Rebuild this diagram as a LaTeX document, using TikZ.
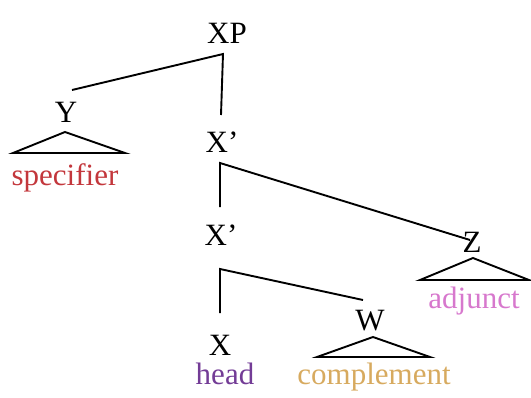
\documentclass[tikz,border=0pt]{standalone}
\usepackage{fontspec}
\setmainfont{Liberation Serif}
\definecolor{specred}{RGB}{195,55,60}
\definecolor{adjpink}{RGB}{215,120,205}
\definecolor{headpurple}{RGB}{115,60,150}
\definecolor{compgold}{RGB}{215,170,95}
\begin{document}
\begin{tikzpicture}[x=1pt,y=-1pt,
  lbl/.style={anchor=base,inner sep=0pt,font=\fontsize{31}{35}\selectfont},
  branch/.style={line width=1.9pt},
  tri/.style={line width=1.9pt,line join=miter}]
\useasboundingbox (0,0) rectangle (531,397);
% labels
\node[lbl] (XP) at (227,43) {XP};
\node[lbl] (Y) at (66,122) {Y};
\node[lbl] (Xb1) at (222,152) {X’};
\node[lbl] (Xb2) at (221,245) {X’};
\node[lbl] (Z) at (472,252) {Z};
\node[lbl] (W) at (370,330) {W};
\node[lbl] (X) at (220,355) {X};
\node[lbl,text=specred] (spec) at (65,185) {specifier};
\node[lbl,text=adjpink] (adj) at (474,308) {adjunct};
\node[lbl,text=headpurple] (head) at (225,384) {head};
\node[lbl,text=compgold] (comp) at (374,384) {complement};
% branch points
\coordinate (v1) at (223,54);
\coordinate (v1l) at (72,90);
\coordinate (v1d) at (221,115);
\coordinate (v2) at (220,163);
\coordinate (v2r) at (470,240);
\coordinate (v2d) at (220,207);
\coordinate (v3) at (220,269);
\coordinate (v3r) at (363,300);
\coordinate (v3d) at (220,313);
\draw[branch] (v1l) -- (v1) -- (v1d);
\draw[branch] (v2r) -- (v2) -- (v2d);
\draw[branch] (v3r) -- (v3) -- (v3d);
% triangles
\coordinate (tY) at (65,132);
\coordinate (tYl) at (13,153);
\coordinate (tYr) at (125,153);
\draw[tri] (tY) -- (tYl) -- (tYr) -- cycle;
\coordinate (tZ) at (473,258);
\coordinate (tZl) at (420,280);
\coordinate (tZr) at (529,280);
\draw[tri] (tZ) -- (tZl) -- (tZr) -- cycle;
\coordinate (tW) at (373,337);
\coordinate (tWl) at (317,357);
\coordinate (tWr) at (430,357);
\draw[tri] (tW) -- (tWl) -- (tWr) -- cycle;
\end{tikzpicture}
\end{document}
